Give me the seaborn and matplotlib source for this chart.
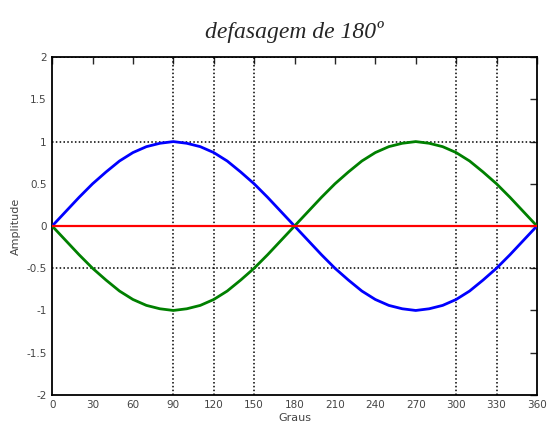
import pandas as pd
import matplotlib
matplotlib.use('Agg')
import matplotlib.pyplot as plt
import seaborn as sns

# PART 1: DATA

# Angle in degrees, one point every 10 degrees
graus = [0, 10, 20, 30, 40, 50, 60, 70, 80, 90, 100, 110, 120, 130, 140, 150, 160, 170, 180,
         190, 200, 210, 220, 230, 240, 250, 260, 270, 280, 290, 300, 310, 320, 330, 340, 350, 360]

# Blue wave (starts going up)
onda_azul = [0, 0.17, 0.34, 0.5, 0.64, 0.77, 0.87, 0.94, 0.98, 1.0, 0.98, 0.94, 0.87, 0.77, 0.64, 0.5, 0.34, 0.17, 0,
             -0.17, -0.34, -0.5, -0.64, -0.77, -0.87, -0.94, -0.98, -1.0, -0.98, -0.94, -0.87, -0.77, -0.64, -0.5, -0.34, -0.17, 0]

# Green wave (180 degrees out of phase)
onda_verde = [0, -0.17, -0.34, -0.5, -0.64, -0.77, -0.87, -0.94, -0.98, -1.0, -0.98, -0.94, -0.87, -0.77, -0.64, -0.5, -0.34, -0.17, 0,
              0.17, 0.34, 0.5, 0.64, 0.77, 0.87, 0.94, 0.98, 1.0, 0.98, 0.94, 0.87, 0.77, 0.64, 0.5, 0.34, 0.17, 0]

# Red line: the sum of both waves
soma = [0] * len(graus)

x_ticks = [0, 30, 60, 90, 120, 150, 180, 210, 240, 270, 300, 330, 360]
y_ticks = [-2, -1.5, -1, -0.5, 0, 0.5, 1, 1.5, 2]

# The scanned figure only shows some of the dotted grid lines
grade_x = [90, 120, 150, 300, 330]
grade_y = [2, 1, -0.5]

df = pd.DataFrame({'graus': graus, 'azul': onda_azul, 'verde': onda_verde, 'soma': soma})

sns.set_style("white")

# PART 2: FIGURE

fig = plt.figure(figsize=(5.49, 4.33), dpi=100)
ax = fig.add_axes([0.095, 0.088, 0.883, 0.78])

for gx in grade_x:
    ax.axvline(gx, color='black', linestyle=(0, (1, 1.5)), linewidth=1.1, zorder=1)
for gy in grade_y:
    ax.axhline(gy, color='black', linestyle=(0, (1, 1.5)), linewidth=1.1, zorder=1)

sns.lineplot(data=df, x='graus', y='azul', ax=ax, color='#0000FF', linewidth=2, zorder=3)
sns.lineplot(data=df, x='graus', y='verde', ax=ax, color='#008000', linewidth=2, zorder=3)
sns.lineplot(data=df, x='graus', y='soma', ax=ax, color='#FF0000', linewidth=1.6, zorder=4)

ax.set_xlim(0, 360)
ax.set_ylim(-2, 2)
ax.set_xticks(x_ticks)
ax.set_yticks(y_ticks)
ax.set_yticklabels(['-2', '-1.5', '-1', '-0.5', '0', '0.5', '1', '1.5', '2'])
ax.tick_params(direction='in', length=5, width=1, top=True, right=True,
               labelsize=7.5, labelcolor='#444444', pad=4)

for s in ax.spines.values():
    s.set_linewidth(1.3)
    s.set_color('black')

ax.set_xlabel('Graus', fontsize=8, color='#444444', labelpad=2)
ax.set_ylabel('Amplitude', fontsize=8, color='#444444', labelpad=4)
ax.set_title('defasagem de 180º', family='Liberation Serif', style='italic',
             fontsize=17, pad=14)

# PART 3: SAVE

plt.savefig('out.png', dpi=100)
